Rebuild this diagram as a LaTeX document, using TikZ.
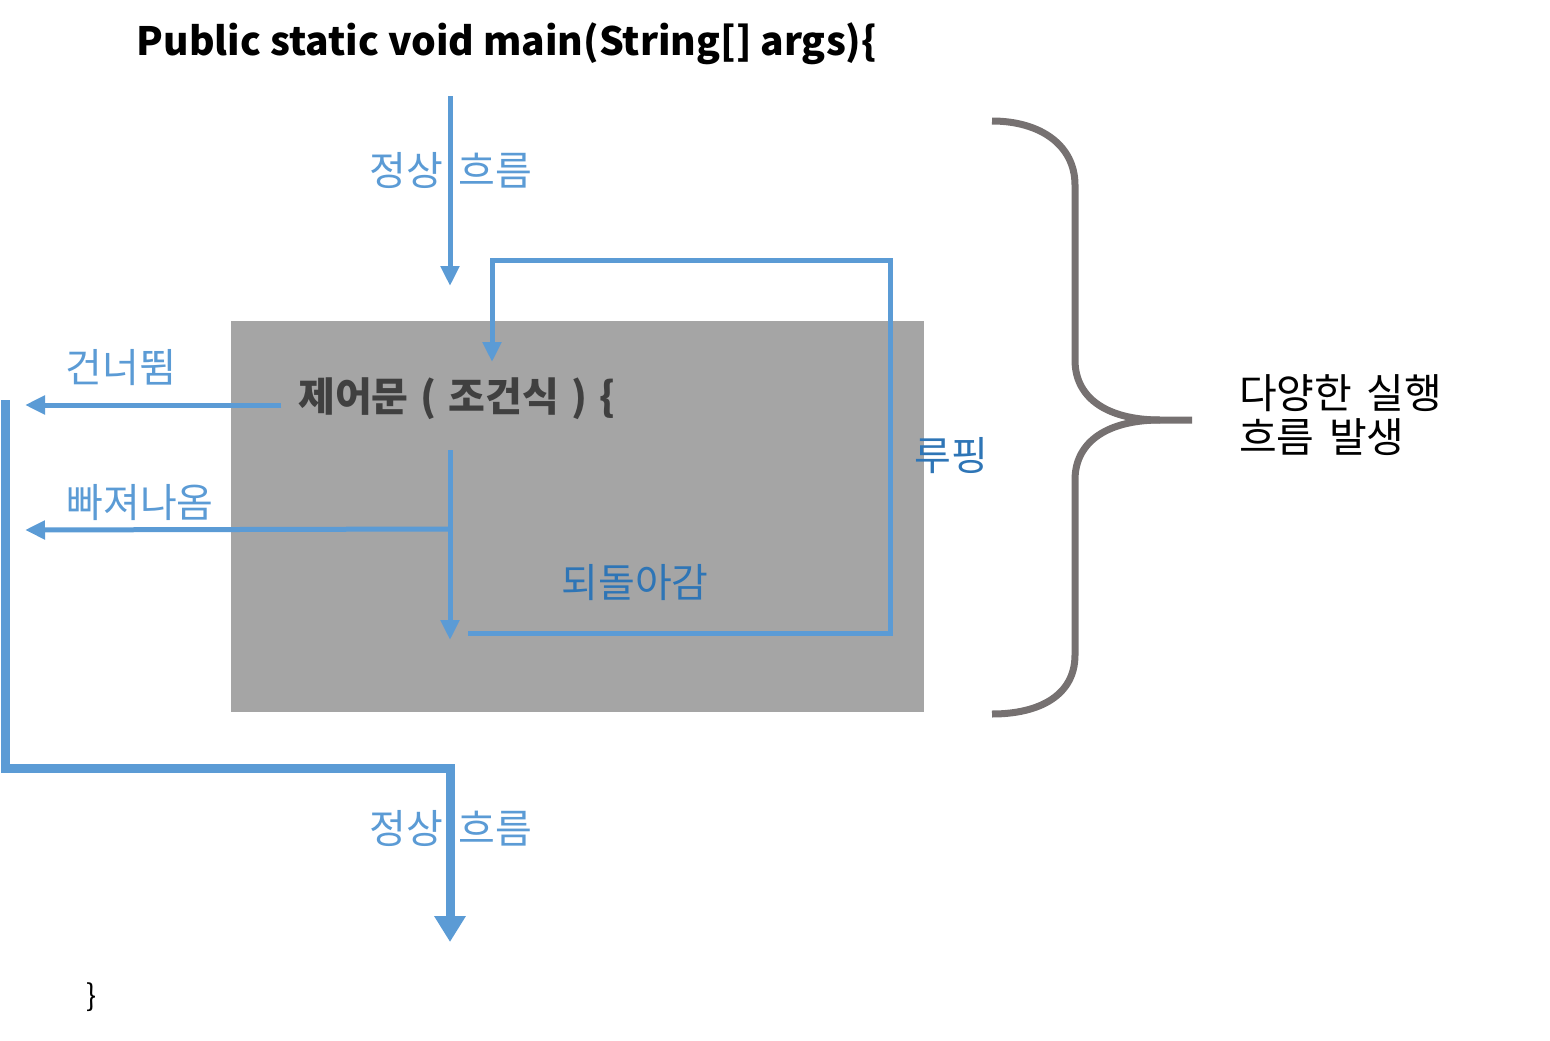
\documentclass[tikz,border=0pt]{standalone}
\usepackage{fontspec}
\setmainfont{Noto Sans CJK KR}
\usetikzlibrary{arrows.meta}
\begin{document}
\begin{tikzpicture}[x=1pt, y=-1pt, >={Triangle[length=20pt, width=18pt]},
		font=\fontsize{40}{44}\selectfont]
		\definecolor{flowblue}{RGB}{91,155,213}
		\definecolor{darkblue}{RGB}{46,117,182}
		\definecolor{boxgray}{RGB}{165,165,165}
		\definecolor{bracegray}{RGB}{118,113,113}
		\definecolor{codegray}{RGB}{64,64,64}
		\tikzset{
			flow/.style={draw=flowblue, line width=5pt},
			mainflow/.style={draw=flowblue, line width=9pt, >={Triangle[length=26pt, width=30pt]}},
			flowlabel/.style={text=flowblue, inner sep=0pt},
			looplabel/.style={text=darkblue, inner sep=0pt}
		}
		\useasboundingbox (0,0) rectangle (1550,1041);
		
		% 제목
		\node[font=\fontsize{39}{44}\selectfont\bfseries, inner sep=0pt] (title) at (507,44) {Public static void main(String[] args)\{};
		
		% 제어문 블록
		\node[fill=boxgray, minimum width=693, minimum height=391, anchor=north west, inner sep=0pt] (block) at (231,321) {};
		\node[font=\fontsize{40}{44}\selectfont\bfseries, text=codegray, anchor=west, inner sep=0pt] (cond) at (298,399) {제어문\hspace{0.3em}(\hspace{0.3em}조건식\hspace{0.3em})\hspace{0.3em}\{};
		
		% 라벨
		\node[flowlabel] (lbl-in) at (451,170) {정상\hspace{0.4em}흐름};
		\node[flowlabel] (lbl-out) at (451,828) {정상\hspace{0.4em}흐름};
		\node[flowlabel] (lbl-skip) at (121,368) {건너뜀};
		\node[flowlabel] (lbl-exit) at (140,503) {빠져나옴};
		\node[looplabel] (lbl-back) at (635,583) {되돌아감};
		\node[looplabel] (lbl-loop) at (951,456) {루핑};
		
		% 좌표
		\coordinate (in-start) at (450,96);
		\coordinate (in-end) at (450,286);
		\coordinate (skip-start) at (281,405);
		\coordinate (skip-end) at (25,405);
		\coordinate (body-start) at (450,450);
		\coordinate (body-end) at (450,640);
		\coordinate (exit-start) at (450,529);
		\coordinate (exit-end) at (25,530);
		\coordinate (loop-start) at (468,633);
		\coordinate (loop-br) at (890,633);
		\coordinate (loop-tr) at (890,260);
		\coordinate (loop-tl) at (492,260);
		\coordinate (loop-end) at (492,362);
		\coordinate (out-start) at (5,400);
		\coordinate (out-bl) at (5,768);
		\coordinate (out-br) at (450,768);
		\coordinate (out-end) at (450,942);
		
		% 흐름 화살표
		\draw[flow, ->] (in-start) -- (in-end);
		\draw[flow, ->] (skip-start) -- (skip-end);
		\draw[flow, ->] (body-start) -- (body-end);
		\draw[flow, ->] (exit-start) -- (exit-end);
		\draw[flow, ->] (loop-start) -- (loop-br) -- (loop-tr) -- (loop-tl) -- (loop-end);
		\draw[mainflow, ->] (out-start) -- (out-bl) -- (out-br) -- (out-end);
		
		% 중괄호
		\draw[bracegray, line width=7pt] (992,121) .. controls (1040,121) and (1075,145) .. (1075,185)
		-- (1075,360) .. controls (1075,400) and (1110,420) .. (1160,420) -- (1192,420);
		\draw[bracegray, line width=7pt] (1160,420) .. controls (1110,420) and (1075,440) .. (1075,480)
		-- (1075,655) .. controls (1075,695) and (1040,714) .. (992,714);
		\node[anchor=west, align=left, inner sep=0pt, font=\fontsize{41}{44}\selectfont] (note) at (1239,415) {다양한\hspace{0.35em}실행\\흐름\hspace{0.35em}발생};
		
		% 닫는 괄호
		\node[font=\fontsize{30}{36}\selectfont, inner sep=0pt] (close) at (92,997) {\}};
	\end{tikzpicture}
\end{document}
